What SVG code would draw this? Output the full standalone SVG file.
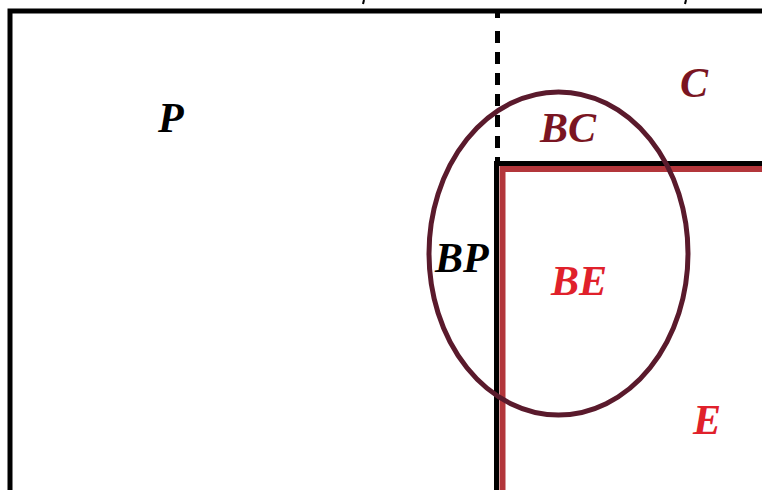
<svg xmlns="http://www.w3.org/2000/svg" width="762" height="490" viewBox="0 0 762 490">
  <style>
    .lbl { font-family: "Liberation Serif", "DejaVu Serif", serif; font-weight: bold; font-style: italic; font-size: 42px; }
    .blk { fill: #000000; }
    .mar { fill: #7a1522; }
    .red { fill: #e0212b; }
  </style>
  <rect width="762" height="490" fill="#ffffff"/>
  <g id="frame">
    <path d="M10,495 V11 H770" fill="none" stroke="#000" stroke-width="5"/>
    <line x1="364" y1="0" x2="363" y2="4" stroke="#000" stroke-width="2"/>
    <line x1="686" y1="0" x2="685" y2="4" stroke="#000" stroke-width="2"/>
  </g>
  <g id="divider">
    <line x1="497.5" y1="11" x2="497.5" y2="18" stroke="#000" stroke-width="5"/>
    <line x1="497.5" y1="31" x2="497.5" y2="162" stroke="#000" stroke-width="5" stroke-dasharray="12 9"/>
  </g>
  <g id="E-region">
    <path d="M502.5,495 V169 H770" fill="none" stroke="#b3363b" stroke-width="6"/>
    <path d="M496.5,495 V163.5 H770" fill="none" stroke="#000" stroke-width="5"/>
  </g>
  <g id="B-ellipse">
    <ellipse cx="558.5" cy="253.5" rx="129.5" ry="161.5" fill="none" stroke="#5a1a2c" stroke-width="5"/>
  </g>
  <g id="labels">
    <text class="lbl blk" x="158" y="132">P</text>
    <text class="lbl blk" x="435" y="272">BP</text>
    <text class="lbl mar" x="540" y="142">BC</text>
    <text class="lbl red" x="551" y="295">BE</text>
    <text class="lbl mar" x="680" y="97">C</text>
    <text class="lbl red" x="693" y="434">E</text>
  </g>
</svg>
